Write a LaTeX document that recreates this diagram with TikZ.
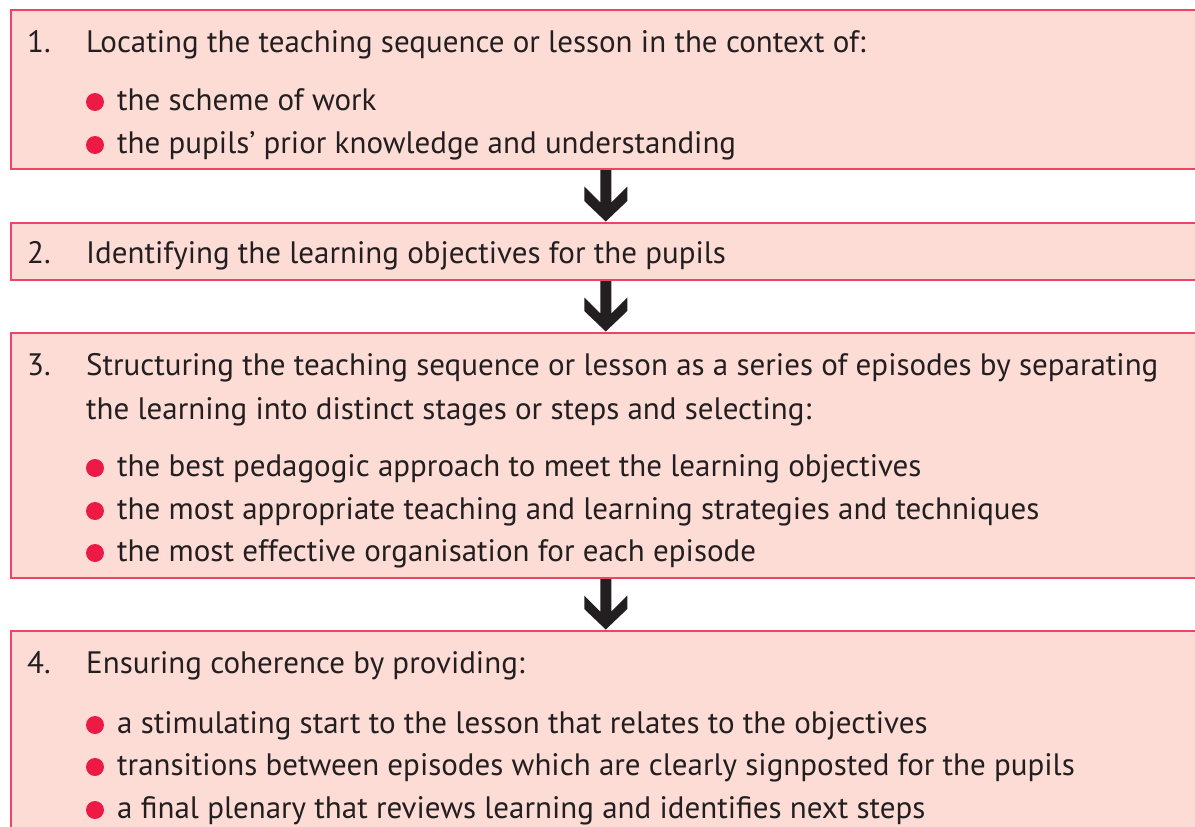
\documentclass[tikz,border=0pt]{standalone}
\usepackage{fontspec}
\setmainfont{PT Sans}
\usetikzlibrary{calc}
\definecolor{boxfill}{HTML}{FDDCD6}
\definecolor{boxline}{HTML}{EE4466}
\definecolor{txt}{HTML}{231F20}
\definecolor{dotred}{HTML}{EC1A45}
\tikzset{
  stagebox/.style={draw=boxline, fill=boxfill, line width=1.5pt, anchor=north west, inner sep=0pt, minimum width=1190pt},
  tx/.style={anchor=base west, inner sep=0pt, text=txt, font=\fontsize{31}{37}\selectfont},
  dot/.style={circle, fill=dotred, inner sep=0pt, minimum size=18pt},
  arrowc/.style={fill=txt}
}
\newcommand\flowarrow[2]{%
  \fill[arrowc] let \p1=(#1.south), \p2=(#2.north) in
    (\x1-5.5pt,\y1-0.5pt) -- (\x1-5.5pt,\y1-33pt) -- (\x1-21.5pt,\y1-17pt) --
    (\x1-21.5pt,\y2+21pt) -- (\x1,\y2+0.5pt) -- (\x1+21.5pt,\y2+21pt) --
    (\x1+21.5pt,\y1-17pt) -- (\x1+5.5pt,\y1-33pt) -- (\x1+5.5pt,\y1-0.5pt) -- cycle;}
\begin{document}
\begin{tikzpicture}[x=1pt,y=-1pt]
\useasboundingbox (0,0) rectangle (1195,827);
% boxes
\node[stagebox, minimum height=159pt] (b1) at (10,9) {};
\node[stagebox, minimum height=57pt] (b2) at (10,222) {};
\node[stagebox, minimum height=245pt] (b3) at (10,332) {};
\node[stagebox, minimum height=220pt] (b4) at (10,630) {};
% arrows
\flowarrow{b1}{b2}
\flowarrow{b2}{b3}
\flowarrow{b3}{b4}
% box 1
\node[tx] (n1) at (27,52) {1.};
\node[tx] (t1) at (86,52) {Locating the teaching sequence or lesson in the context of:};
\node[dot] (d11) at (95,102) {};
\node[tx] (t11) at (117,110) {the scheme of work};
\node[dot] (d12) at (95,145) {};
\node[tx] (t12) at (117,153) {the pupils’ prior knowledge and understanding};
% box 2
\node[tx] (n2) at (27,263) {2.};
\node[tx] (t2) at (86,263) {Identifying the learning objectives for the pupils};
% box 3
\node[tx] (n3) at (27,375) {3.};
\node[tx] (t3a) at (86,375) {Structuring the teaching sequence or lesson as a series of episodes by separating};
\node[tx] (t3b) at (86,419) {the learning into distinct stages or steps and selecting:};
\node[dot] (d31) at (95,468) {};
\node[tx] (t31) at (117,476) {the best pedagogic approach to meet the learning objectives};
\node[dot] (d32) at (95,511) {};
\node[tx] (t32) at (117,519) {the most appropriate teaching and learning strategies and techniques};
\node[dot] (d33) at (95,553) {};
\node[tx] (t33) at (117,561) {the most effective organisation for each episode};
% box 4
\node[tx] (n4) at (27,673) {4.};
\node[tx] (t4) at (86,673) {Ensuring coherence by providing:};
\node[dot] (d41) at (95,725) {};
\node[tx] (t41) at (117,733) {a stimulating start to the lesson that relates to the objectives};
\node[dot] (d42) at (95,767) {};
\node[tx] (t42) at (117,775) {transitions between episodes which are clearly signposted for the pupils};
\node[dot] (d43) at (95,810) {};
\node[tx] (t43) at (117,818) {a final plenary that reviews learning and identifies next steps};
\end{tikzpicture}
\end{document}
